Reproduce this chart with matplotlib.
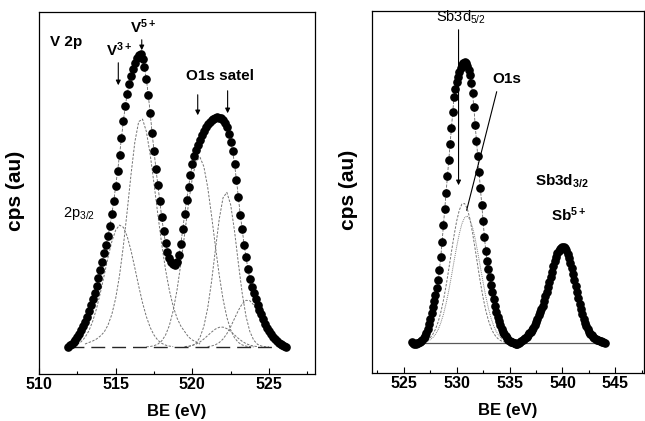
import numpy as np
import matplotlib
matplotlib.use('Agg')
import matplotlib.pyplot as plt
from matplotlib.ticker import MultipleLocator

plt.rcParams['font.family'] = ['Liberation Sans', 'DejaVu Sans']
plt.rcParams['mathtext.fontset'] = 'custom'
plt.rcParams['mathtext.rm'] = 'Liberation Sans'
plt.rcParams['mathtext.default'] = 'regular'

# ---- V 2p region (left panel), points every 0.125 eV from 511.875 eV
v_start = 511.875
v_step = 0.125
v_cps = [0, 2, 3, 5, 7, 10, 13, 17, 21, 25,
         30, 36, 42, 48, 54, 61, 69, 77, 85, 94,
         102, 111, 121, 133, 146, 161, 176, 192, 209, 226,
         241, 253, 263, 271, 278, 284, 289, 292, 293, 288,
         280, 268, 252, 234, 214, 196, 178, 162, 146, 130,
         116, 104, 95, 89, 85, 83, 82, 85, 92, 103,
         118, 133, 147, 160, 172, 183, 191, 197, 202, 207,
         212, 216, 220, 223, 225, 227, 228, 229, 230, 229,
         229, 227, 224, 220, 213, 205, 196, 183, 167, 150,
         132, 118, 102, 90, 78, 68, 60, 54, 48, 42,
         37, 33, 28, 23, 19, 16, 13, 10, 8, 6,
         4, 3, 2, 1, 0]

# fitted components, 0.25 eV spacing: (first energy, values)
v3_start = 512.0
v3_fit = [0.6, 1.4, 2.8, 5.3, 9.6, 16.1, 25.7, 38.4, 54.1, 71.8, 89.7, 105.5, 116.9, 121.9,
          119.7, 110.7, 96.4, 79.0, 61.0, 44.3, 30.4, 19.6, 11.9, 6.8, 3.7, 1.9, 0.9, 0.4]
v5_start = 513.0
v5_fit = [3.0, 4.5, 6.0, 8.0, 11.0, 15.0, 22.0, 32.7, 48.8, 71.5, 101.0, 135.9, 172.6, 205.0,
          225.4, 227.9, 215.5, 192.5, 163.3, 132.4, 103.1, 77.5, 56.7, 40.6, 29.0, 20.9, 15.4,
          10.0, 7.0, 5.0, 3.0]
sat1_start = 517.0
sat1_fit = [0.2, 0.5, 1.3, 2.9, 6.1, 11.9, 21.5, 36.3, 57.0, 83.3, 113.3, 143.5, 169.2, 185.7,
            189.7, 180.4, 159.8, 131.7, 101.0, 72.2, 48.0, 29.7, 17.1, 9.2, 4.6, 2.1, 0.9, 0.4, 0.1]
sat2_start = 519.5
sat2_fit = [0.1, 0.5, 1.5, 4.0, 9.7, 20.6, 38.9, 65.2, 96.9, 127.6, 149.2, 154.6, 142.2, 116.0,
            83.9, 53.8, 30.6, 15.5, 6.9, 2.7, 1.0, 0.3, 0.1]
sat3_start = 519.5
sat3_fit = [0.4, 0.8, 1.6, 3.0, 5.1, 8.0, 11.4, 14.9, 17.9, 19.7, 19.9, 18.4, 15.6, 12.1,
            8.6, 5.7, 3.4, 1.9, 0.9, 0.4]
sat4_start = 521.0
sat4_fit = [0.4, 1.0, 2.2, 4.4, 8.0, 13.3, 20.3, 28.5, 36.6, 43.2, 46.7, 46.3, 42.1, 35.1,
            26.8, 18.8, 12.1, 7.1, 3.8, 1.9, 0.9]

# ---- O1s / Sb3d region (right panel), points every 0.125 eV from 525.75 eV
o_start = 525.75
o_step = 0.125
o_cps = [1, 0, -1, -1, 0, 0, 1, 2, 3, 5,
         7, 10, 14, 19, 24, 30, 36, 42, 48, 55,
         63, 73, 86, 101, 118, 134, 150, 167, 183, 199,
         215, 231, 246, 254, 261, 266, 271, 275, 278, 280,
         281, 280, 277, 273, 268, 260, 250, 236, 218, 202,
         187, 171, 155, 138, 122, 106, 92, 82, 74, 66,
         58, 51, 44, 37, 31, 26, 22, 18, 14, 11,
         9, 7, 5, 3, 2, 1, 1, 0, 0, -1,
         -1, 0, 1, 2, 3, 4, 5, 6, 8, 10,
         11, 13, 15, 18, 21, 24, 28, 31, 34, 37,
         42, 47, 51, 56, 61, 66, 71, 77, 82, 86,
         90, 92, 94, 95, 96, 96, 95, 93, 89, 85,
         80, 75, 69, 63, 57, 51, 45, 39, 34, 29,
         24, 20, 17, 14, 11, 9, 8, 6, 5, 4,
         3, 3, 2, 2, 1, 1, 0]

sb_start = 526.5
sb_fit = [0.5, 0.9, 1.7, 3.1, 5.3, 8.8, 13.8, 21.0, 30.5, 42.6, 57.1, 73.4, 90.5, 107.2,
          121.8, 132.8, 139.0, 139.5, 134.5, 124.3, 110.3, 93.9, 76.8, 60.2, 45.3, 32.7,
          22.7, 15.1, 9.6, 5.9, 3.5, 1.9, 1.1, 0.5, 0.3]
o1s_start = 526.75
o1s_fit = [0.6, 1.0, 1.9, 3.2, 5.4, 8.7, 13.4, 20.0, 28.6, 39.4, 52.1, 66.4, 81.5, 96.2,
           109.2, 119.3, 125.4, 127.0, 123.5, 115.7, 104.3, 90.4, 75.5, 60.6, 46.8, 34.8,
           24.9, 17.1, 11.3, 7.2, 4.4, 2.6, 1.5, 0.8, 0.4]


def energies(start, step, vals):
    return start + step * np.arange(len(vals))


def style_axes(ax, lo, hi, ylo, yhi):
    ax.set_xlim(lo, hi)
    ax.set_ylim(ylo, yhi)
    ax.set_yticks([])
    ax.xaxis.set_major_locator(MultipleLocator(5))
    ax.xaxis.set_minor_locator(MultipleLocator(2.5))
    ax.tick_params(axis='x', which='major', direction='in', length=4, width=0.8, pad=2,
                   labelsize=11.5)
    ax.tick_params(axis='x', which='minor', direction='in', length=2.5, width=0.8)
    for lbl in ax.get_xticklabels():
        lbl.set_fontweight('bold')
    for s in ax.spines.values():
        s.set_linewidth(0.9)
    ax.set_xlabel('BE (eV)', fontsize=12, fontweight='bold', labelpad=9)
    ax.set_ylabel('cps (au)', fontsize=15, fontweight='bold')
    ax.yaxis.set_label_coords(-0.05, 0.505)


fig = plt.figure(figsize=(6.45, 4.21), dpi=100)
ax1 = fig.add_axes([0.0605, 0.1116, 0.4279, 0.8599])
ax2 = fig.add_axes([0.5767, 0.1140, 0.4217, 0.8599])

comp_style = dict(color='0.45', lw=0.7, ls=(0, (2.5, 1.5)))

# left panel
for st, vals in [(v3_start, v3_fit), (v5_start, v5_fit), (sat1_start, sat1_fit),
                 (sat2_start, sat2_fit), (sat3_start, sat3_fit), (sat4_start, sat4_fit)]:
    ax1.plot(energies(st, 0.25, vals), vals, **comp_style)
ax1.plot([512.0, 526.0], [0, 0], color='0.15', lw=1.0, ls=(0, (10, 5)))
xv = energies(v_start, v_step, v_cps)
ax1.plot(xv, v_cps, color='0.4', lw=0.6, ls='--')
ax1.plot(xv, v_cps, 'ko', ms=5.2, mec='k')
style_axes(ax1, 510, 528, -27, 335)

ax1.text(510.7, 305, 'V 2p', fontsize=11, fontweight='bold', va='center', ha='left')
ax1.text(515.2, 291, 'V$^{3+}$', fontsize=11, fontweight='bold', ha='center', va='baseline')
ax1.text(516.8, 314, 'V$^{5+}$', fontsize=11, fontweight='bold', ha='center', va='baseline')
ax1.text(521.8, 267, 'O1s satel', fontsize=11, fontweight='bold', ha='center', va='baseline')
ax1.text(511.55, 130, '2p$_{3/2}$', fontsize=10.5, ha='left', va='baseline')
arr = dict(arrowstyle='-|>', color='k', lw=0.8, mutation_scale=7)
for ex, y0, y1 in [(515.17, 287, 259), (516.7, 310, 294), (520.35, 255, 229), (522.3, 259, 231)]:
    ax1.annotate('', xy=(ex, y1), xytext=(ex, y0), arrowprops=arr)

# right panel
ax2.plot(energies(sb_start, 0.25, sb_fit), sb_fit, **comp_style)
ax2.plot(energies(o1s_start, 0.25, o1s_fit), o1s_fit, color='0.5', lw=0.7, ls=(0, (1, 1)))
ax2.plot([526.2, 544.0], [0, 0], color='0.35', lw=0.9)
xo = energies(o_start, o_step, o_cps)
ax2.plot(xo, o_cps, color='0.4', lw=0.6, ls='--')
ax2.plot(xo, o_cps, 'ko', ms=5.2, mec='k')
style_axes(ax2, 522, 547.7, -30, 332)

ax2.text(530.4, 321, 'Sb3d$_{5/2}$', fontsize=10.5, ha='center', va='baseline')
ax2.annotate('', xy=(530.18, 155), xytext=(530.18, 316), arrowprops=arr)
ax2.text(534.7, 260, 'O1s', fontsize=11, fontweight='bold', ha='center', va='baseline')
ax2.annotate('', xy=(530.88, 130), xytext=(533.85, 254),
             arrowprops=dict(arrowstyle='-', color='k', lw=0.8))
ax2.text(539.95, 157, 'Sb3d$_{3/2}$', fontsize=11, fontweight='bold', ha='center', va='baseline')
ax2.text(540.6, 122, 'Sb$^{5+}$', fontsize=11, fontweight='bold', ha='center', va='baseline')

fig.savefig('out.png', dpi=100)
